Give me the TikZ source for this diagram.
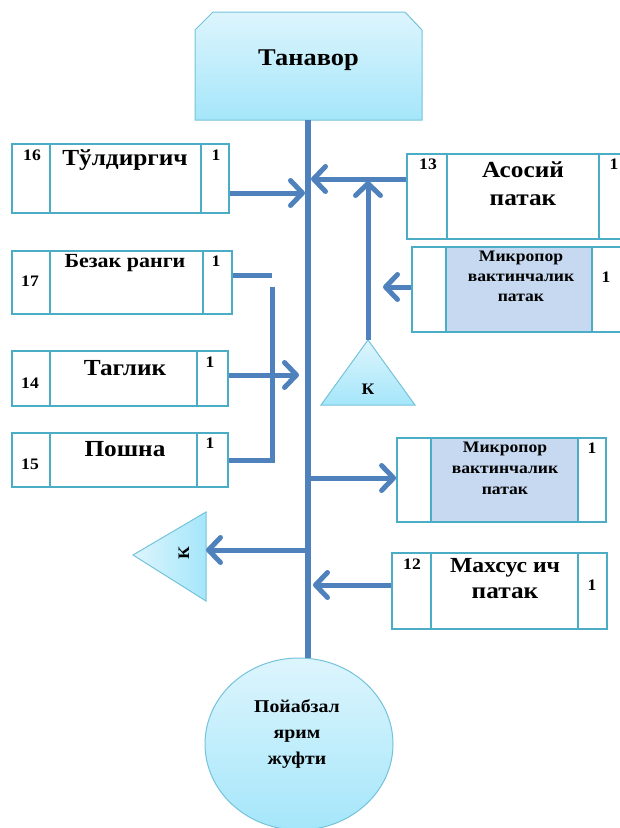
\documentclass[tikz,border=0pt]{standalone}
\usepackage{fontspec}
\setmainfont{Liberation Serif}[FakeStretch=1.1]
\usetikzlibrary{positioning, arrows.meta, shapes.geometric}

\definecolor{linkblue}{HTML}{4F81BD}
\definecolor{cellline}{HTML}{4BACC6}
\definecolor{cellfill}{HTML}{C6D9F1}
\definecolor{skytop}{HTML}{DDF5FD}
\definecolor{skybot}{HTML}{A5E6FA}
\definecolor{skyline}{HTML}{74C3DA}

\begin{document}
\begin{tikzpicture}[
    x=1pt, y=-1pt,          % pixel-like coordinates, y downwards
    >={Straight Barb[length=12pt, width=25pt, round]},
    link/.style={linkblue, line width=5pt},
    cell/.style={draw=cellline, line width=1.8pt, inner sep=0pt},
    cellblue/.style={cell, fill=cellfill},
    sky/.style={draw=skyline, line width=1pt, top color=skytop, bottom color=skybot},
    num/.style={font=\bfseries\fontsize{16}{18}\selectfont},
    big/.style={font=\bfseries\fontsize{23}{26}\selectfont},
    mid/.style={font=\bfseries\fontsize{20}{22}\selectfont},
    small/.style={font=\bfseries\fontsize{16}{18}\selectfont}
]
    \useasboundingbox (0,0) rectangle (619,828);

    % --- 1. Tanavor and the shoe half pair ---
    \draw [sky] (195,120) -- (195,30) -- (213,12) -- (405,12) -- (422,30) -- (422,120) -- cycle;
    \node [font=\bfseries\fontsize{24}{28}\selectfont] (tanavor) at (308.5,60) {Танавор};
    \coordinate (tanbot) at (308,120);
    \node [sky, ellipse, minimum width=188, minimum height=172] (shoe) at (299,744) {};
    \node [align=center, font=\bfseries\fontsize{18}{26}\selectfont] (shoetxt) at (297,734)
        {Пойабзал\\ярим\\жуфти};

    % main line
    \draw [linkblue, line width=6pt] (tanbot) -- (tanbot |- shoe.north);

    % --- 2. Left boxes ---
    % 16
    \node [cell, minimum width=38, minimum height=69] (b16a) at (31,178.5) {};
    \node [cell, minimum width=151, minimum height=69] (b16b) at (125.5,178.5) {};
    \node [cell, minimum width=28, minimum height=69] (b16c) at (215,178.5) {};
    \node [num] (b16num) at (32,155) {16};
    \node [big] (b16txt) at (125,160) {Тўлдиргич};
    \node [num] (b16one) at (216,155) {1};
    % 17
    \node [cell, minimum width=38, minimum height=63] (b17a) at (31,282.5) {};
    \node [cell, minimum width=153, minimum height=63] (b17b) at (126.5,282.5) {};
    \node [cell, minimum width=29, minimum height=63] (b17c) at (217.5,282.5) {};
    \node [num] (b17num) at (30,281) {17};
    \node [mid] (b17txt) at (125,263) {Безак ранги};
    \node [num] (b17one) at (216,261) {1};
    % 14
    \node [cell, minimum width=38, minimum height=55] (b14a) at (31,378.5) {};
    \node [cell, minimum width=147, minimum height=55] (b14b) at (123.5,378.5) {};
    \node [cell, minimum width=31, minimum height=55] (b14c) at (212.5,378.5) {};
    \node [num] (b14num) at (30,383) {14};
    \node [big] (b14txt) at (125,368) {Таглик};
    \node [num] (b14one) at (210,362) {1};
    % 15
    \node [cell, minimum width=38, minimum height=54] (b15a) at (31,460) {};
    \node [cell, minimum width=147, minimum height=54] (b15b) at (123.5,460) {};
    \node [cell, minimum width=31, minimum height=54] (b15c) at (212.5,460) {};
    \node [num] (b15num) at (30,464) {15};
    \node [big] (b15txt) at (125,449) {Пошна};
    \node [num] (b15one) at (210,443) {1};

    % --- 3. Right boxes ---
    % 13
    \node [cell, minimum width=40, minimum height=85] (b13a) at (427,196.5) {};
    \node [cell, minimum width=152, minimum height=85] (b13b) at (523,196.5) {};
    \node [cell, minimum width=28, minimum height=85] (b13c) at (613,196.5) {};
    \node [num] (b13num) at (428,164) {13};
    \node [big] (b13txt) at (523,170) {Асосий};
    \node [big] (b13txt2) at (523,200) {патак};
    \node [num] (b13one) at (614,164) {1};
    % micropore, upper
    \node [cell, minimum width=34, minimum height=85] (mp1a) at (429,289.5) {};
    \node [cellblue, minimum width=146, minimum height=85] (mp1b) at (519,289.5) {};
    \node [cell, minimum width=33, minimum height=85] (mp1c) at (608.5,289.5) {};
    \node [small] (mp1t1) at (521,258) {Микропор};
    \node [small] (mp1t2) at (521,278) {вактинчалик};
    \node [small] (mp1t3) at (521,298) {патак};
    \node [num] (mp1one) at (606,277) {1};
    % micropore, lower
    \node [cell, minimum width=34, minimum height=84] (mp2a) at (414,480) {};
    \node [cellblue, minimum width=147, minimum height=84] (mp2b) at (504.5,480) {};
    \node [cell, minimum width=28, minimum height=84] (mp2c) at (592,480) {};
    \node [small] (mp2t1) at (505,449) {Микропор};
    \node [small] (mp2t2) at (505,470) {вактинчалик};
    \node [small] (mp2t3) at (505,491) {патак};
    \node [num] (mp2one) at (592,448) {1};
    % 12
    \node [cell, minimum width=39, minimum height=76] (b12a) at (411.5,591) {};
    \node [cell, minimum width=147, minimum height=76] (b12b) at (504.5,591) {};
    \node [cell, minimum width=29, minimum height=76] (b12c) at (592.5,591) {};
    \node [num] (b12num) at (412,564) {12};
    \node [big, font=\bfseries\fontsize{21.5}{24}\selectfont] (b12txt) at (505,568) {Махсус ич};
    \node [big] (b12txt2) at (505,593) {патак};
    \node [num] (b12one) at (592,585) {1};

    % --- 4. Triangles K ---
    \coordinate (k1top) at (368,340);
    \draw [sky] (k1top) -- (415,405) -- (321,405) -- cycle;
    \node [font=\bfseries\fontsize{16}{18}\selectfont] (k1) at (368,389) {К};
    \coordinate (k2tip) at (133,555);
    \coordinate (k2side) at (206,555);
    \draw [draw=skyline, line width=1pt, left color=skytop, right color=skybot]
        (k2tip) -- (206,512) -- (206,601) -- cycle;
    \node [rotate=90, font=\bfseries\fontsize{16}{18}\selectfont] (k2) at (184,553) {К};

    % --- 5. Connectors ---
    \coordinate (m16) at (305,193);
    \coordinate (m13) at (311,179);
    \coordinate (j13) at (368,181);
    \coordinate (mp1end) at (383,287);
    \coordinate (m14) at (299,375);
    \coordinate (m12) at (313,585);
    \coordinate (mk2) at (308,550);
    \coordinate (mmp2) at (308,478);
    \coordinate (bend1) at (272,275);
    \coordinate (bend2) at (272,287);

    \draw [link, ->] (b16c.east |- m16) -- (m16);
    \draw [link, ->] (b13a.west |- m13) -- (m13);
    \draw [link, ->] (k1top) -- (j13);
    \draw [link, ->] (mp1a.west |- mp1end) -- (mp1end);
    \draw [link] (b17c.east |- bend1) -- (bend1);
    \draw [link] (bend2) -- (bend2 |- b15c.east) -- (b15c.east);
    \draw [link, ->] (b14c.east |- m14) -- (m14);
    \draw [link, ->] (mmp2) -- (mp2a.west |- mmp2);
    \draw [link, ->] (b12a.west |- m12) -- (m12);
    \draw [link, ->] (mk2) -- (k2side |- mk2);

\end{tikzpicture}
\end{document}
